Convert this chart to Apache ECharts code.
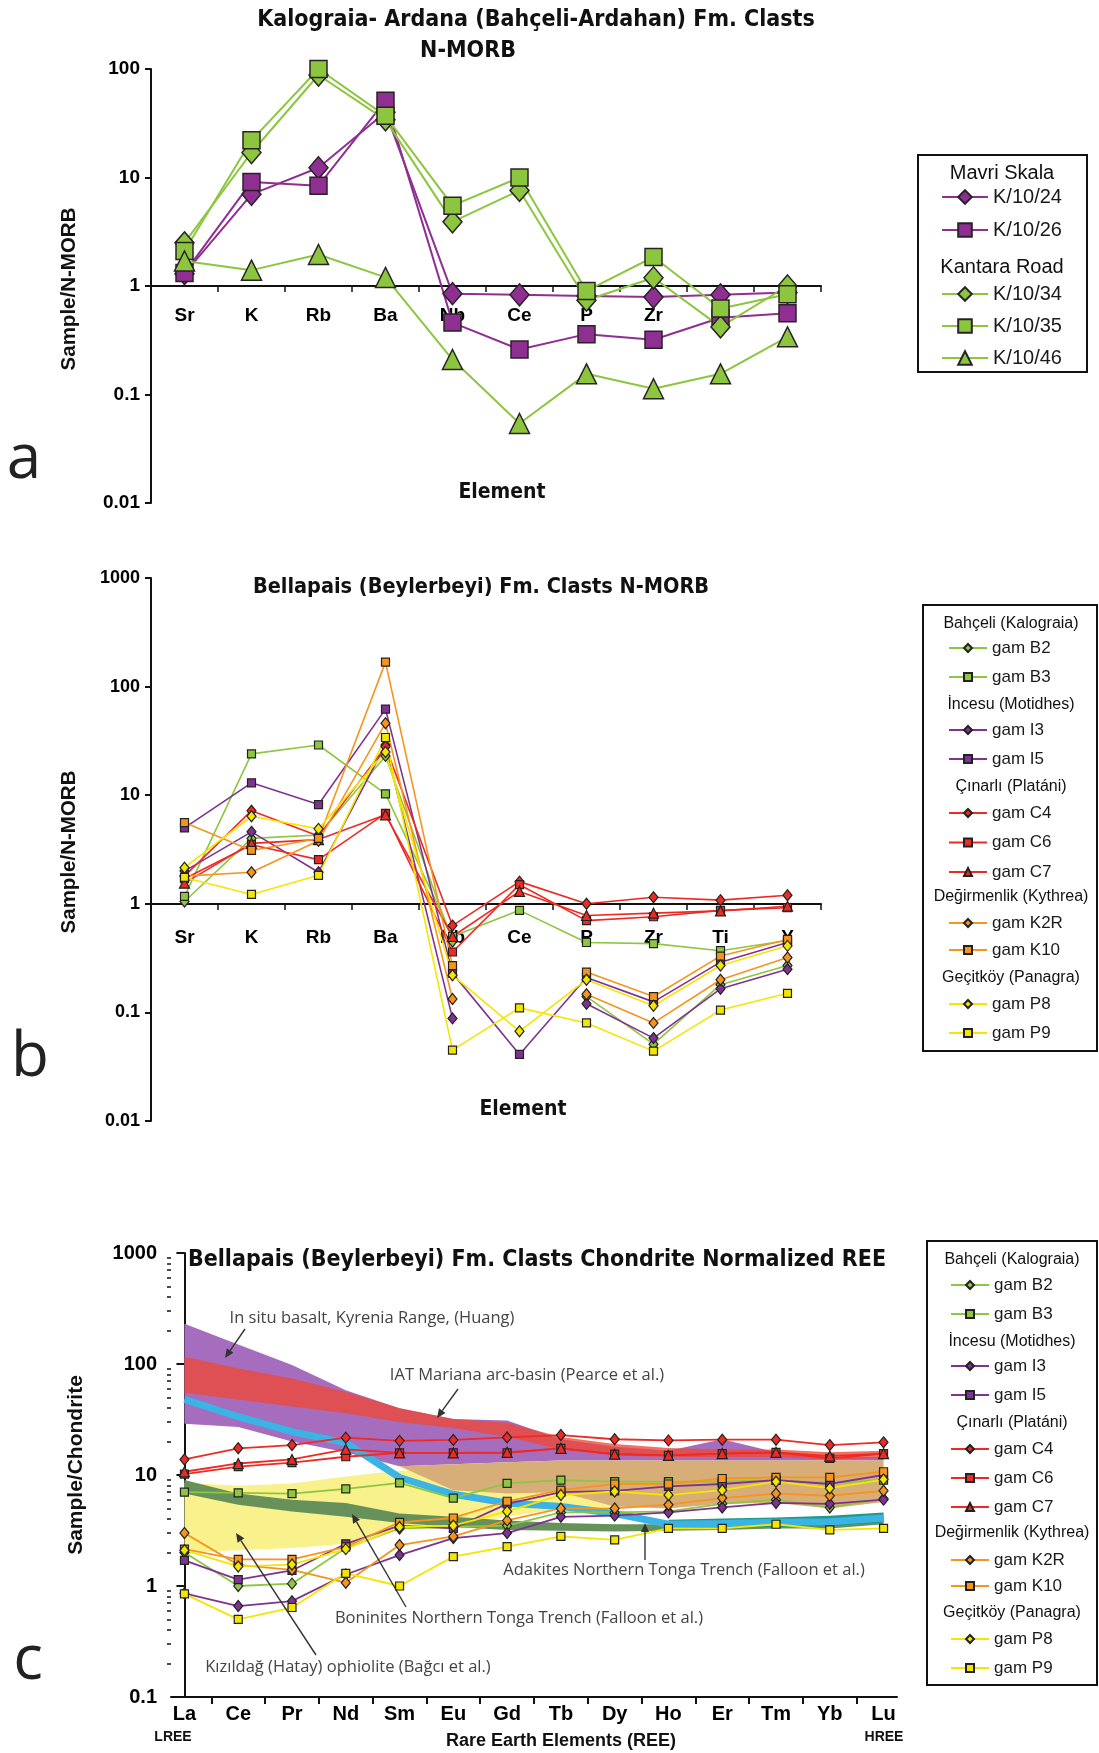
<!DOCTYPE html>
<html lang="en">
<head>
<meta charset="utf-8">
<title>Kalograia-Ardana and Bellapais clasts: N-MORB and chondrite plots</title>
<script src="https://cdn.jsdelivr.net/npm/echarts@6.0.0/dist/echarts.min.js"></script>
</head>
<body style="margin:0;background:#fff">
<div id="container" style="width:1099px;height:1753px"></div>
<script>
// element order on the x axes
const morbElems = ['Sr', 'K', 'Rb', 'Ba', 'Nb', 'Ce', 'P', 'Zr', 'Ti', 'Y'];
const reeElems = ['La', 'Ce', 'Pr', 'Nd', 'Sm', 'Eu', 'Gd', 'Tb', 'Dy', 'Ho', 'Er', 'Tm', 'Yb', 'Lu'];

// panel a - Kalograia-Ardana clasts, sample / N-MORB
const k1024 = [1.3, 7.0, 12.3, 40, 0.85, 0.83, 0.81, 0.79, 0.83, 0.87];
const k1026 = [1.32, 9.1, 8.4, 51, 0.46, 0.26, 0.36, 0.32, 0.51, 0.56];
const k1034 = [2.5, 17, 88, 34, 3.9, 7.6, 0.74, 1.19, 0.42, 1.0];
const k1035 = [2.1, 22, 100, 37, 5.5, 10, 0.9, 1.85, 0.62, 0.84];
const k1046 = [1.7, 1.4, 1.95, 1.2, 0.21, 0.054, 0.155, 0.113, 0.155, 0.34];

// panel b - Bellapais clasts, sample / N-MORB (null = not analysed)
const bB2 = [1.05, 4.0, 4.3, 23, 0.45, null, 0.14, 0.051, 0.18, 0.27];
const bB3 = [1.17, 24, 29, 10.3, 0.5, 0.87, 0.44, 0.43, 0.37, 0.46];
const bI3 = [2.0, 4.6, 1.95, 29, 0.088, null, 0.12, 0.058, 0.165, 0.25];
const bI5 = [5.0, 13, 8.2, 62, 0.23, 0.041, 0.21, 0.125, 0.29, 0.44];
const bC4 = [1.8, 7.2, 4.2, 28, 0.63, 1.6, 1.0, 1.15, 1.08, 1.2];
const bC6 = [1.7, 3.5, 2.55, 6.8, 0.36, 1.5, 0.7, 0.76, 0.87, 0.92];
const bC7 = [1.55, 3.6, 3.9, 6.6, 0.5, 1.3, 0.78, 0.82, 0.86, 0.95];
const bK2R = [1.8, 1.95, 3.8, 46, 0.133, null, 0.147, 0.08, 0.2, 0.32];
const bK10 = [5.6, 3.1, 4.0, 168, 0.27, null, 0.235, 0.14, 0.33, 0.47];
const bP8 = [2.15, 6.4, 4.9, 25, 0.22, 0.067, 0.2, 0.115, 0.27, 0.41];
const bP9 = [1.75, 1.22, 1.83, 34, 0.045, 0.11, 0.08, 0.044, 0.105, 0.15];

// panel c - Bellapais clasts, sample / chondrite
const cB2 = [2.0, 1.0, 1.05, 2.2, 3.3, 3.4, 3.5, 4.6, 4.6, 4.7, 5.5, 6.0, 5.1, 6.1];
const cB3 = [7.0, 6.9, 6.8, 7.5, 8.5, 6.2, 8.4, 9.0, 8.7, 8.7, 8.7, 9.0, 8.5, 9.0];
const cI3 = [0.86, 0.66, 0.73, 1.27, 1.9, 2.7, 3.0, 4.2, 4.3, 4.6, 5.1, 5.6, 5.5, 6.0];
const cI5 = [1.7, 1.14, 1.38, 2.4, 3.5, 3.3, 5.5, 7.0, 7.2, 7.9, 8.3, 9.0, 8.3, 10];
const cC4 = [13.8, 17.4, 18.6, 21.7, 20.3, 20.7, 21.8, 22.9, 21, 20.5, 20.8, 20.8, 18.6, 19.7];
const cC6 = [10.2, 11.9, 12.9, 14.6, 15.8, 15.8, 15.8, 17.4, 15.4, 15.0, 15.6, 16, 14.1, 15.6];
const cC7 = [10.7, 12.7, 13.8, 17, 15.8, 15.8, 16, 17.4, 15.4, 15.0, 15.6, 16, 14.8, 15.6];
const cK2R = [3.0, 1.55, 1.4, 1.07, 2.34, 2.8, 3.9, 5.0, 5.0, 5.4, 6.2, 6.8, 6.5, 7.2];
const cK10 = [2.15, 1.74, 1.74, 2.25, 3.75, 4.1, 5.8, 7.3, 8.3, 8.3, 9.3, 9.5, 9.5, 10.7];
const cP8 = [2.1, 1.5, 1.56, 2.15, 3.4, 3.5, 4.7, 6.6, 7.1, 6.6, 7.3, 8.7, 7.6, 9.1];
const cP9 = [0.85, 0.5, 0.64, 1.3, 1.0, 1.84, 2.26, 2.8, 2.6, 3.3, 3.3, 3.6, 3.2, 3.3];

// panel c - comparison fields (upper / lower envelopes)
const huangHi = [230, 150, 98, 58, 40, 32, 31, 21, 18, 16.5, 21, 16, 14.5, 14.5];
const huangLo = [29, 27, 20, 16, 12, 12.5, 13, 13.5, 13.5, 13.5, 13.5, 13.5, 13.5, 13.5];
const iatHi = [116, 91, 74, 56, 40, 32, 29.5, 22, 19, 17.5, 17, 17, 16, 16.5];
const iatLo = [55, 48, 41.5, 36, 30, 26.5, 22, 17, 15, 14.5, 14.5, 14.5, 13.8, 14.2];
const kizilHi = [8.5, 8.0, 8.4, 9.7, 11, 11, 10, 9.5, 9, 9, 9, 9, 9, 9];
const kizilLo = [2.0, 2.1, 2.2, 2.4, 3.3, 3.5, 4.2, 5.0, 5.2, 5.4, 5.8, 6, 5.8, 6];
const tanHi = [null, null, null, null, 12, 12.5, 13, 13.5, 13.5, 13.5, 13.5, 13.5, 13.5, 13.5];
const tanLo = [null, null, null, null, 12, 7.3, 6.8, 7.0, 5.2, 5.0, 5.5, 5.6, 5.0, 5.7];
const boninHi = [9.0, 6.8, 6.0, 5.6, 4.5, 4.2, 3.9, 3.7, 3.6, 3.6, 3.7, 3.8, 3.8, 4.2];
const boninLo = [6.8, 5.4, 4.7, 4.2, 3.7, 3.4, 3.2, 3.15, 3.1, 3.15, 3.2, 3.3, 3.3, 3.6];
const adakite = [48, 33.5, 24.6, 19.5, 9.5, 6.7, 5.6, 5.2, 4.5, 3.6, 3.65, 3.75, 3.8, 4.1];
const adakTealHi = [null, null, null, null, null, null, null, null, null, 3.95, 4.05, 4.15, 4.3, 4.6];
const adakTealLo = [null, null, null, null, null, null, null, null, null, 3.3, 3.35, 3.4, 3.45, 3.75];

let dom = document.getElementById('container');
let myChart = echarts.init(dom, null, { renderer: 'canvas' });

const narrow = "'Liberation Sans Narrow', 'DejaVu Sans Condensed', 'Liberation Sans', sans-serif";
const arial = "'Liberation Sans', Arial, sans-serif";
const myriad = "'Open Sans', 'Noto Sans', sans-serif";

const col = { green: '#8dc63f', purple: '#7e3391', red: '#ee2a24', orange: '#f7941d', yellow: '#f4e600' };

// sample definitions for panels b and c
const samples = [
    { name: 'gam B2', color: col.green, symbol: 'diamond', b: bB2, c: cB2 },
    { name: 'gam B3', color: col.green, symbol: 'rect', b: bB3, c: cB3 },
    { name: 'gam I3', color: col.purple, symbol: 'diamond', b: bI3, c: cI3 },
    { name: 'gam I5', color: col.purple, symbol: 'rect', b: bI5, c: cI5 },
    { name: 'gam C4', color: col.red, symbol: 'diamond', b: bC4, c: cC4 },
    { name: 'gam C6', color: col.red, symbol: 'rect', b: bC6, c: cC6 },
    { name: 'gam C7', color: col.red, symbol: 'triangle', b: bC7, c: cC7 },
    { name: 'gam K2R', color: col.orange, symbol: 'diamond', b: bK2R, c: cK2R },
    { name: 'gam K10', color: col.orange, symbol: 'rect', b: bK10, c: cK10 },
    { name: 'gam P8', color: col.yellow, symbol: 'diamond', b: bP8, c: cP8 },
    { name: 'gam P9', color: col.yellow, symbol: 'rect', b: bP9, c: cP9 }
];
function smallSize(s) {
    if (s === 'diamond') return [9, 11];
    if (s === 'rect') return 8;
    return 10;
}

// panel a series
const seriesA = [
    { name: 'K/10/24', data: k1024, color: '#8e2f91', symbol: 'diamond', size: [19, 22] },
    { name: 'K/10/26', data: k1026, color: '#8e2f91', symbol: 'rect', size: 17 },
    { name: 'K/10/34', data: k1034, color: '#8cc63e', symbol: 'diamond', size: [19, 22] },
    { name: 'K/10/35', data: k1035, color: '#8cc63e', symbol: 'rect', size: 17 },
    { name: 'K/10/46', data: k1046, color: '#8cc63e', symbol: 'triangle', size: 20 }
].map(s => ({
    type: 'line', name: s.name, xAxisIndex: 0, yAxisIndex: 0, data: s.data,
    symbol: s.symbol, symbolSize: s.size, showAllSymbol: true,
    lineStyle: { color: s.color, width: 2 },
    itemStyle: { color: s.color, borderColor: '#2a2326', borderWidth: 1.5 },
    z: 3
}));

const seriesB = samples.map(s => ({
    type: 'line', name: s.name, xAxisIndex: 1, yAxisIndex: 1, data: s.b,
    symbol: s.symbol, symbolSize: smallSize(s.symbol), connectNulls: false,
    lineStyle: { color: s.color, width: 1.6 },
    itemStyle: { color: s.color, borderColor: '#222', borderWidth: 1.2 },
    z: 3
}));

const seriesC = samples.map(s => ({
    type: 'line', name: s.name, xAxisIndex: 2, yAxisIndex: 2,
    data: s.c.map((v, i) => [i, v]),
    symbol: s.symbol, symbolSize: smallSize(s.symbol),
    lineStyle: { color: s.color, width: 1.8 },
    itemStyle: { color: s.color, borderColor: '#222', borderWidth: 1.2 },
    z: 5
}));

// filled envelope drawn through the panel c axes
function band(name, hi, lo, fill, z) {
    return {
        type: 'custom', name: name, xAxisIndex: 2, yAxisIndex: 2, silent: true, z: z,
        data: [[0, 1]],
        renderItem: function (params, api) {
            let pts = [];
            hi.forEach((v, i) => { if (v != null) pts.push(api.coord([i, v])); });
            for (let i = lo.length - 1; i >= 0; i--) {
                if (lo[i] != null) pts.push(api.coord([i, lo[i]]));
            }
            return { type: 'polygon', shape: { points: pts }, style: { fill: fill } };
        }
    };
}

const fieldsC = [
    band('In situ basalt, Kyrenia Range', huangHi, huangLo, '#a66cbd', 1),
    band('IAT Mariana arc-basin', iatHi, iatLo, 'rgba(238,72,52,0.78)', 1),
    band('Kizildag ophiolite', kizilHi, kizilLo, '#f8f18c', 1),
    band('tan field', tanHi, tanLo, '#d8ae78', 1),
    band('Boninites', boninHi, boninLo, '#66915a', 1),
    {
        type: 'line', name: 'Adakites', xAxisIndex: 2, yAxisIndex: 2, silent: true, z: 1,
        data: adakite.map((v, i) => [i, v]), symbol: 'none',
        lineStyle: { color: '#3ab4e4', width: 7 }
    },
    band('Adakites overlap', adakTealHi, adakTealLo, '#21988b', 1)
];

// minor ticks for the chondrite log axis
const minorTicks = [];
[0.1, 1, 10, 100].forEach(d => { for (let k = 2; k <= 9; k++) minorTicks.push(+(k * d).toFixed(2)); });

const plainNum = v => String(+Number(v).toPrecision(6));
function yLabel(size, margin) {
    return { color: '#000', fontFamily: arial, fontWeight: 'bold', fontSize: size, margin: margin, formatter: plainNum };
}
const blackLine = { show: true, lineStyle: { color: '#111', width: 2 } };

function logAxis(grid, min, max, extra) {
    return Object.assign({
        type: 'log', gridIndex: grid, min: min, max: max, logBase: 10, position: 'left',
        axisLine: blackLine,
        axisTick: { show: true, length: 6, lineStyle: { color: '#111', width: 2 } },
        axisLabel: yLabel(18, 10),
        splitLine: { show: false }
    }, extra || {});
}
function morbAxis(grid, offset, margin) {
    return {
        type: 'category', gridIndex: grid, data: morbElems, offset: offset,
        axisLine: blackLine,
        axisTick: { show: true, length: 6, lineStyle: { color: '#111', width: 1.5 } },
        axisLabel: { interval: 0, margin: margin, color: '#000', fontFamily: arial, fontWeight: 'bold', fontSize: 19 },
        splitLine: { show: false }
    };
}

// legends: one component per locality block (row pitch = font size + gap)
function legendBlock(names, left, top, itemW, itemH, gap, fontSize) {
    return {
        data: names, orient: 'vertical', left: left, top: top, selectedMode: false,
        itemWidth: itemW, itemHeight: itemH, itemGap: gap, padding: 0,
        textStyle: { fontFamily: arial, fontSize: fontSize, color: '#1a1a1a' }
    };
}
const legends = [
    legendBlock(['K/10/24', 'K/10/26'], 941, 187, 46, 17, 13, 20),
    legendBlock(['K/10/34', 'K/10/35', 'K/10/46'], 941, 284, 46, 17, 12, 20),

    legendBlock(['gam B2', 'gam B3'], 948, 639.5, 38, 10, 12, 17),
    legendBlock(['gam I3', 'gam I5'], 948, 721.5, 38, 10, 12, 17),
    legendBlock(['gam C4', 'gam C6', 'gam C7'], 948, 804.5, 38, 10, 12.5, 17),
    legendBlock(['gam K2R', 'gam K10'], 948, 914.5, 38, 10, 10, 17),
    legendBlock(['gam P8', 'gam P9'], 948, 995.5, 38, 10, 12, 17),

    legendBlock(['gam B2', 'gam B3'], 950, 1276.5, 38, 10, 12, 17),
    legendBlock(['gam I3', 'gam I5'], 950, 1357.5, 38, 10, 12, 17),
    legendBlock(['gam C4', 'gam C6', 'gam C7'], 950, 1440.5, 38, 10, 12, 17),
    legendBlock(['gam K2R', 'gam K10'], 950, 1551.5, 38, 10, 9, 17),
    legendBlock(['gam P8', 'gam P9'], 950, 1630.5, 38, 10, 12, 17)
];

// text / frame helpers for the graphic layer
function txt(x, y, text, size, family, weight, extra) {
    return Object.assign({
        type: 'text', x: x, y: y, z: 100,
        style: { text: text, fontSize: size, fontFamily: family, fontWeight: weight || 'normal', fill: '#111', align: 'center', verticalAlign: 'middle' }
    }, extra || {});
}
function vtxt(x, y, text, size) {
    return txt(x, y, text, size, arial, 'bold', { rotation: Math.PI / 2 });
}
function letter(x, y, ch) {
    const t = txt(x, y, ch, 62, myriad);
    t.style.fill = '#222';
    return t;
}
function note(x, y, text) {
    const t = txt(x, y, text, 16.5, myriad);
    t.style.fill = '#444';
    return t;
}
function frame(x, y, w, h) {
    return { type: 'rect', z: 100, shape: { x: x, y: y, width: w, height: h }, style: { fill: 'none', stroke: '#111', lineWidth: 2 } };
}
function arrow(x1, y1, x2, y2) {
    const a = Math.atan2(y2 - y1, x2 - x1), L = 9, Wd = 4;
    const bx = x2 - L * Math.cos(a), by = y2 - L * Math.sin(a);
    return [
        { type: 'line', z: 100, shape: { x1: x1, y1: y1, x2: bx, y2: by }, style: { stroke: '#333', lineWidth: 1.4 } },
        { type: 'polygon', z: 100, shape: { points: [[x2, y2], [bx - Wd * Math.sin(a), by + Wd * Math.cos(a)], [bx + Wd * Math.sin(a), by - Wd * Math.cos(a)]] }, style: { fill: '#333' } }
    ];
}

const graphics = [
    // titles
    txt(536, 20, 'Kalograia- Ardana (Bahçeli-Ardahan) Fm. Clasts', 23, narrow, 'bold'),
    txt(468, 51, 'N-MORB', 23, narrow, 'bold'),
    txt(481, 587, 'Bellapais (Beylerbeyi) Fm. Clasts N-MORB', 21.5, narrow, 'bold'),
    txt(537, 1260, 'Bellapais (Beylerbeyi) Fm. Clasts Chondrite Normalized REE', 23, narrow, 'bold'),
    // axis names
    vtxt(69, 289, 'Sample/N-MORB', 20.5),
    vtxt(69, 852, 'Sample/N-MORB', 20.5),
    vtxt(76, 1465, 'Sample/Chondrite', 21),
    txt(502, 493, 'Element', 21, narrow, 'bold'),
    txt(523, 1110, 'Element', 21, narrow, 'bold'),
    txt(561, 1741, 'Rare Earth Elements (REE)', 18, arial, 'bold'),
    txt(173, 1737, 'LREE', 14, arial, 'bold'),
    txt(884, 1737, 'HREE', 14, arial, 'bold'),
    // panel letters
    letter(24, 460, 'a'),
    letter(30, 1058, 'b'),
    letter(28, 1661, 'c'),
    // legend frames and locality headers
    frame(918, 155, 169, 217),
    txt(1002, 173, 'Mavri Skala', 20, arial),
    txt(1002, 267, 'Kantara Road', 20, arial),
    frame(923, 605, 174, 446),
    txt(1011, 624, 'Bahçeli (Kalograia)', 16, arial),
    txt(1011, 705, 'İncesu (Motidhes)', 16, arial),
    txt(1011, 787, 'Çınarlı (Platáni)', 16, arial),
    txt(1011, 897, 'Değirmenlik (Kythrea)', 16, arial),
    txt(1011, 978, 'Geçitköy (Panagra)', 16, arial),
    frame(927, 1241, 170, 444),
    txt(1012, 1260, 'Bahçeli (Kalograia)', 16, arial),
    txt(1012, 1342, 'İncesu (Motidhes)', 16, arial),
    txt(1012, 1423, 'Çınarlı (Platáni)', 16, arial),
    txt(1012, 1533, 'Değirmenlik (Kythrea)', 16, arial),
    txt(1012, 1613, 'Geçitköy (Panagra)', 16, arial),
    // annotations of the comparison fields
    note(372, 1318, 'In situ basalt, Kyrenia Range, (Huang)'),
    note(527, 1375, 'IAT Mariana arc-basin (Pearce et al.)'),
    note(684, 1570, 'Adakites Northern Tonga Trench (Falloon et al.)'),
    note(519, 1618, 'Boninites Northern Tonga Trench (Falloon et al.)'),
    note(348, 1667, 'Kızıldağ (Hatay) ophiolite (Bağcı et al.)')
].concat(
    arrow(245, 1329, 225, 1358),
    arrow(458, 1389, 437, 1418),
    arrow(645, 1560, 645, 1523),
    arrow(406, 1607, 352, 1514),
    arrow(316, 1655, 236, 1533)
);

let option = {
    animation: false,
    backgroundColor: '#fff',
    textStyle: { fontFamily: arial },
    grid: [
        { left: 151, top: 69, width: 670, height: 434, outerBoundsMode: 'none' },
        { left: 151, top: 578, width: 670, height: 543, outerBoundsMode: 'none' },
        { left: 171, top: 1253, width: 726, height: 444, outerBoundsMode: 'none' }
    ],
    xAxis: [
        morbAxis(0, -217, 20),
        morbAxis(1, -217, 24),
        {
            type: 'value', gridIndex: 2, min: -0.25, max: 13.25,
            axisLine: blackLine,
            axisTick: { show: true, length: 7, customValues: reeElems.slice(1).map((e, i) => i + 0.5), lineStyle: { color: '#111', width: 2 } },
            axisLabel: {
                customValues: reeElems.map((e, i) => i), margin: 7,
                formatter: v => reeElems[Math.round(v)],
                color: '#000', fontFamily: arial, fontWeight: 'bold', fontSize: 20
            },
            splitLine: { show: false }
        }
    ],
    yAxis: [
        logAxis(0, 0.01, 100, { axisLabel: yLabel(19, 11) }),
        logAxis(1, 0.01, 1000, { axisLabel: Object.assign(yLabel(18, 11), { letterSpacing: -1 }) }),
        logAxis(2, 0.1, 1000, { axisTick: { show: true, length: 8, lineStyle: { color: '#111', width: 2 } }, axisLabel: Object.assign(yLabel(20, 14), { letterSpacing: -1 }) }),
        {
            type: 'log', gridIndex: 2, min: 0.1, max: 1000, position: 'left',
            axisLine: { show: false }, axisLabel: { show: false }, splitLine: { show: false },
            axisTick: { show: true, length: 4, customValues: minorTicks, lineStyle: { color: '#111', width: 1.5 } }
        }
    ],
    legend: legends,
    series: fieldsC.concat(seriesA, seriesB, seriesC),
    graphic: graphics
};

if (option && typeof option === 'object') {
    myChart.setOption(option);
}
</script>
</body>
</html>
